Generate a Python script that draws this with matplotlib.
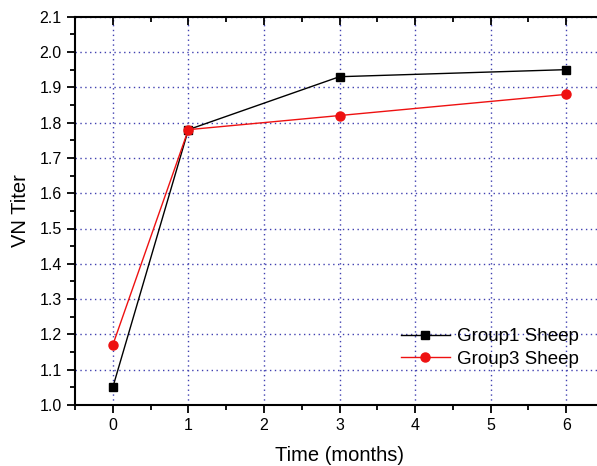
import matplotlib
matplotlib.use("Agg")
import matplotlib.pyplot as plt
from matplotlib.ticker import MultipleLocator

# ==================== data ====================
time_months = [0, 1, 3, 6]
group1_titer = [1.05, 1.78, 1.93, 1.95]
group3_titer = [1.17, 1.78, 1.82, 1.88]

plt.rcParams['font.family'] = ['Liberation Sans', 'DejaVu Sans']

fig = plt.figure(figsize=(5.97, 4.66), dpi=100)
ax = fig.add_axes([75 / 597, 1 - 405 / 466, (604 - 75) / 597, (405 - 16.7) / 466])

ax.plot(time_months, group1_titer, color="black", linewidth=1.0,
        marker="s", markersize=6, label="Group1 Sheep", zorder=3)
ax.plot(time_months, group3_titer, color="#ee1111", linewidth=1.0,
        marker="o", markersize=6.5, label="Group3 Sheep", zorder=3)

ax.set_xlim(-0.5, 6.5)
ax.set_ylim(1.0, 2.1)
ax.xaxis.set_major_locator(MultipleLocator(1))
ax.xaxis.set_minor_locator(MultipleLocator(0.5))
ax.yaxis.set_major_locator(MultipleLocator(0.1))
ax.yaxis.set_minor_locator(MultipleLocator(0.05))
ax.yaxis.set_major_formatter(plt.FormatStrFormatter('%.1f'))

ax.grid(True, which="major", linestyle=(0, (1, 2.5)), color="#4040b0", linewidth=1.0)
ax.tick_params(which="both", direction="out", width=1.3, labelsize=11.5)
ax.tick_params(which="major", length=6)
ax.tick_params(which="minor", length=3.5)
ax.tick_params(which="both", top=True, right=True)
ax.tick_params(axis="x", which="both", labeltop=False)
for side in ["top", "bottom", "left", "right"]:
    ax.spines[side].set_linewidth(1.5)

# top ticks point inward
for t in ax.xaxis.get_major_ticks() + ax.xaxis.get_minor_ticks():
    t.tick2line.set_marker(matplotlib.lines.TICKDOWN)

ax.set_xlabel("Time (months)", fontsize=14.5, labelpad=9)
ax.set_ylabel("VN Titer", fontsize=14.5, labelpad=7)

ax.legend(loc="center left", bbox_to_anchor=(384 / 597, 1 - 348 / 466),
          bbox_transform=fig.transFigure, frameon=False, fontsize=13.5,
          handlelength=2.6, handletextpad=0.4, labelspacing=0.3)

plt.savefig("out.png", dpi=100)
